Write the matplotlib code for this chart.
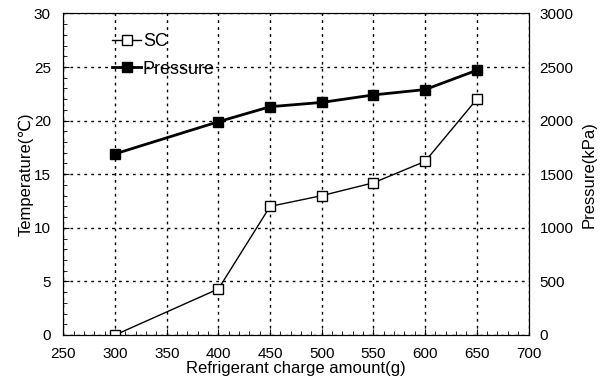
import matplotlib
matplotlib.use("Agg")
import matplotlib.pyplot as plt
from matplotlib.ticker import MultipleLocator

plt.rcParams['font.family'] = ['Liberation Sans', 'DejaVu Sans']

# data
charge = [300, 400, 450, 500, 550, 600, 650]
sc = [0.0, 4.3, 12.0, 13.0, 14.2, 16.2, 22.0]
pressure = [1690, 1990, 2130, 2170, 2240, 2290, 2470]

fig = plt.figure(figsize=(6.04, 3.85), dpi=100)
ax = fig.add_axes([0.105, 0.13, 0.77, 0.835])
ax2 = ax.twinx()

l1, = ax.plot(charge, sc, color='black', lw=1.0, marker='s', ms=7,
              mfc='white', mec='black', mew=1.0, label='SC')
l2, = ax2.plot(charge, pressure, color='black', lw=2.0, marker='s', ms=7,
               mfc='black', mec='black', label='Pressure')

ax.set_xlim(250, 700)
ax.set_ylim(0, 30)
ax2.set_ylim(0, 3000)
ax.xaxis.set_major_locator(MultipleLocator(50))
ax.xaxis.set_minor_locator(MultipleLocator(10))
ax.yaxis.set_major_locator(MultipleLocator(5))
ax.yaxis.set_minor_locator(MultipleLocator(1))
ax2.yaxis.set_major_locator(MultipleLocator(500))

ax.tick_params(which='both', direction='in', labelsize=11, top=False)
ax.tick_params(which='major', length=4)
ax.tick_params(which='minor', length=3)
ax.tick_params(axis='x', pad=9)
ax.tick_params(axis='y', pad=9)
ax2.tick_params(direction='in', length=0, labelsize=11, pad=8)

ax.grid(True, which='major', color='black', ls=(0, (2, 3)), lw=1.0)

ax.set_xlabel('Refrigerant charge amount(g)', fontsize=12, labelpad=0)
ax.set_ylabel('Temperature(℃)', fontsize=12, labelpad=0)
ax2.set_ylabel('Pressure(kPa)', fontsize=12, labelpad=6)

ax.legend([l1, l2], ['SC', 'Pressure'], loc='upper left', frameon=False,
          fontsize=13, handlelength=1.6, handletextpad=0.1,
          bbox_to_anchor=(0.07, 0.99), labelspacing=0.6)

fig.savefig('out.png', dpi=100)
